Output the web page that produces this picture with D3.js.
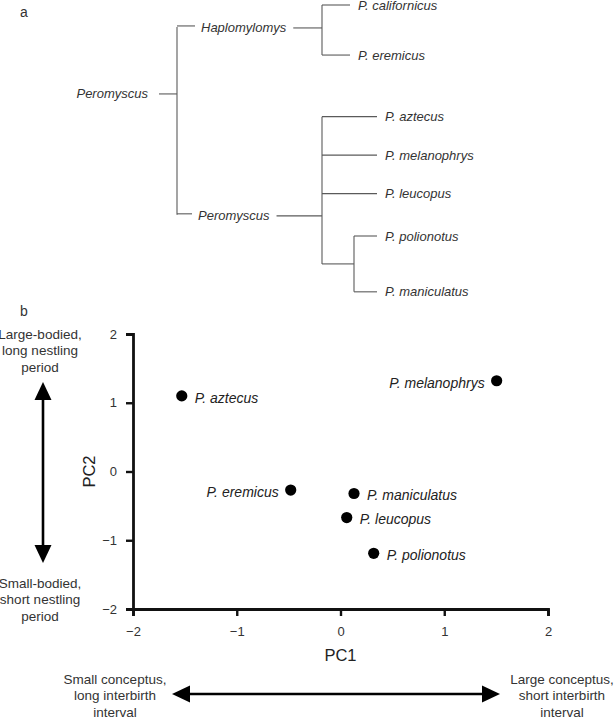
<!DOCTYPE html>
<html>
<head>
<meta charset="utf-8">
<script src="https://cdn.jsdelivr.net/npm/d3@7"></script>
<style>
  html, body { margin: 0; padding: 0; background: #fff; }
  svg { display: block; font-family: "Liberation Sans", Arial, sans-serif; }
</style>
</head>
<body>
<svg id="chart" width="616" height="717"></svg>
<script>
// ---------- DATA ----------
// Panel a: phylogeny
const treeLeaves = ["P. californicus", "P. eremicus", "P. aztecus", "P. melanophrys", "P. leucopus", "P. polionotus", "P. maniculatus"];
const leafSlots = [0, 1.3, 2.9, 3.9, 4.9, 6.0, 7.45];           // vertical order slot of each tip
const leafParent = ["Haplomylomys", "Haplomylomys", "Peromyscus", "Peromyscus", "Peromyscus", "clade", "clade"];
const internalNodes = ["root", "Haplomylomys", "Peromyscus", "clade"];
const internalLabels = ["Peromyscus", "Haplomylomys", "Peromyscus", ""];
const internalParent = [null, "root", "root", "Peromyscus"];
const internalSlots = [2.31, 0.57, 5.45, 6.725];

// Panel b: PCA scores
const species = ["P. aztecus", "P. melanophrys", "P. eremicus", "P. maniculatus", "P. leucopus", "P. polionotus"];
const pc1 = [-1.53, 1.505, -0.48, 0.13, 0.06, 0.32];
const pc2 = [1.10, 1.32, -0.27, -0.32, -0.67, -1.19];
const labelSide = ["right", "left", "left", "right", "right", "right"];
const axisTicks = [-2, -1, 0, 1, 2];

// ---------- SETUP ----------
const svg = d3.select("#chart");
const ink = "#111";
const treeInk = "#5a5a5a";
const fmt = d => d < 0 ? "\u2212" + Math.abs(d) : String(d);

// ---------- PANEL a ----------
svg.append("text").attr("x", 20).attr("y", 17).attr("font-size", 14).attr("fill", "#333").text("a");

const slotY = d3.scaleLinear().domain([0, 1]).range([5, 43.5]);
const vx = { root: 177, Haplomylomys: 322, Peromyscus: 322, clade: 354 };
const labelStart = { Haplomylomys: 201, Peromyscus: 198 };
const tipEnd = { Haplomylomys: 350, Peromyscus: 377, clade: 377 };
const tg = svg.append("g").attr("stroke", treeInk).attr("stroke-width", 1.1).attr("fill", "none");
const tt = svg.append("g").attr("font-size", 13).attr("font-style", "italic").attr("fill", "#333");

const nodeY = {};
internalNodes.forEach((n, i) => nodeY[n] = slotY(internalSlots[i]));

internalNodes.forEach(n => {
  const ys = [];
  leafParent.forEach((p, i) => { if (p === n) ys.push(slotY(leafSlots[i])); });
  internalParent.forEach((p, i) => { if (p === n) ys.push(nodeY[internalNodes[i]]); });
  tg.append("line").attr("x1", vx[n]).attr("x2", vx[n]).attr("y1", d3.min(ys)).attr("y2", d3.max(ys));
});

tt.append("text").attr("x", 148).attr("y", nodeY.root).attr("dy", "0.35em").attr("text-anchor", "end").text(internalLabels[0]);
tg.append("line").attr("x1", 159).attr("x2", vx.root).attr("y1", nodeY.root).attr("y2", nodeY.root);

internalNodes.forEach((n, i) => {
  const p = internalParent[i];
  if (!p) return;
  const y = nodeY[n];
  if (internalLabels[i]) {
    const t = tt.append("text").attr("x", labelStart[n]).attr("y", y + 1).attr("dy", "0.35em").text(internalLabels[i]);
    const w = t.node().getComputedTextLength();
    tg.append("line").attr("x1", vx[p]).attr("x2", labelStart[n] - 6).attr("y1", y - 1).attr("y2", y - 1);
    tg.append("line").attr("x1", labelStart[n] + w + 7).attr("x2", vx[n]).attr("y1", y + 1).attr("y2", y + 1);
  } else {
    tg.append("line").attr("x1", vx[p]).attr("x2", vx[n]).attr("y1", y).attr("y2", y);
  }
});

treeLeaves.forEach((name, i) => {
  const p = leafParent[i];
  const y = slotY(leafSlots[i]);
  tg.append("line").attr("x1", vx[p]).attr("x2", tipEnd[p]).attr("y1", y).attr("y2", y);
  tt.append("text").attr("x", tipEnd[p] + 8).attr("y", y).attr("dy", "0.35em").text(name);
});

// ---------- PANEL b ----------
svg.append("text").attr("x", 20).attr("y", 316).attr("font-size", 14).attr("fill", "#333").text("b");

const x = d3.scaleLinear().domain([-2, 2]).range([133, 548]);
const y = d3.scaleLinear().domain([-2, 2]).range([609, 334]);

const xAxis = svg.append("g").attr("transform", `translate(0,${y(-2)})`)
  .call(d3.axisBottom(x).tickValues(axisTicks).tickFormat(fmt).tickSizeOuter(0).tickSize(7).tickPadding(11));
const yAxis = svg.append("g").attr("transform", `translate(${x(-2)},0)`)
  .call(d3.axisLeft(y).tickValues(axisTicks).tickFormat(fmt).tickSizeOuter(0).tickSize(7).tickPadding(9));
[xAxis, yAxis].forEach(g => {
  g.select(".domain").attr("stroke", ink).attr("stroke-width", 2.8);
  g.selectAll(".tick line").attr("stroke", ink).attr("stroke-width", 2.4);
  g.selectAll(".tick text").attr("font-size", 13).attr("fill", "#333").attr("font-family", "Liberation Sans, Arial, sans-serif");
});

svg.append("text").attr("x", x(0)).attr("y", 661).attr("text-anchor", "middle")
  .attr("font-size", 16.5).attr("fill", "#222").text("PC1");
svg.append("text").attr("transform", `translate(95,${y(0)}) rotate(-90)`).attr("text-anchor", "middle")
  .attr("font-size", 16.5).attr("fill", "#222").text("PC2");

const pts = svg.append("g");
species.forEach((s, i) => {
  const cx = x(pc1[i]), cy = y(pc2[i]);
  pts.append("circle").attr("cx", cx).attr("cy", cy).attr("r", 5.6).attr("fill", "#000");
  const right = labelSide[i] === "right";
  pts.append("text").attr("x", right ? cx + 13 : cx - 12).attr("y", cy + 2).attr("dy", "0.35em")
    .attr("text-anchor", right ? "start" : "end").attr("font-size", 14).attr("font-style", "italic")
    .attr("fill", "#222").text(s);
});

// ---------- annotation arrows ----------
function arrow(x1, y1, x2, y2) {
  const g = svg.append("g");
  const L = 18, W = 8.5;
  const ang = Math.atan2(y2 - y1, x2 - x1);
  const ux = Math.cos(ang), uy = Math.sin(ang);
  g.append("line").attr("x1", x1 + ux * (L - 2)).attr("y1", y1 + uy * (L - 2))
    .attr("x2", x2 - ux * (L - 2)).attr("y2", y2 - uy * (L - 2)).attr("stroke", "#000").attr("stroke-width", 2.6);
  const head = (tx, ty, dx, dy) => {
    const bx = tx - dx * L, by = ty - dy * L;
    g.append("path").attr("d", `M${tx},${ty}L${bx - dy * W},${by + dx * W}L${bx + dy * W},${by - dx * W}Z`).attr("fill", "#000");
  };
  head(x2, y2, ux, uy);
  head(x1, y1, -ux, -uy);
}
arrow(43, 382, 43, 563);
arrow(172, 694, 500, 694);

function block(cx, cy, lines) {
  const t = svg.append("text").attr("text-anchor", "middle").attr("font-size", 13.5).attr("fill", "#333");
  lines.forEach((l, i) => t.append("tspan").attr("x", cx).attr("y", cy + i * 16.5).attr("dy", "0.35em").text(l));
}
block(40, 334, ["Large-bodied,", "long nestling", "period"]);
block(40, 583, ["Small-bodied,", "short nestling", "period"]);
block(115, 679, ["Small conceptus,", "long interbirth", "interval"]);
block(562, 679, ["Large conceptus,", "short interbirth", "interval"]);
</script>
</body>
</html>
